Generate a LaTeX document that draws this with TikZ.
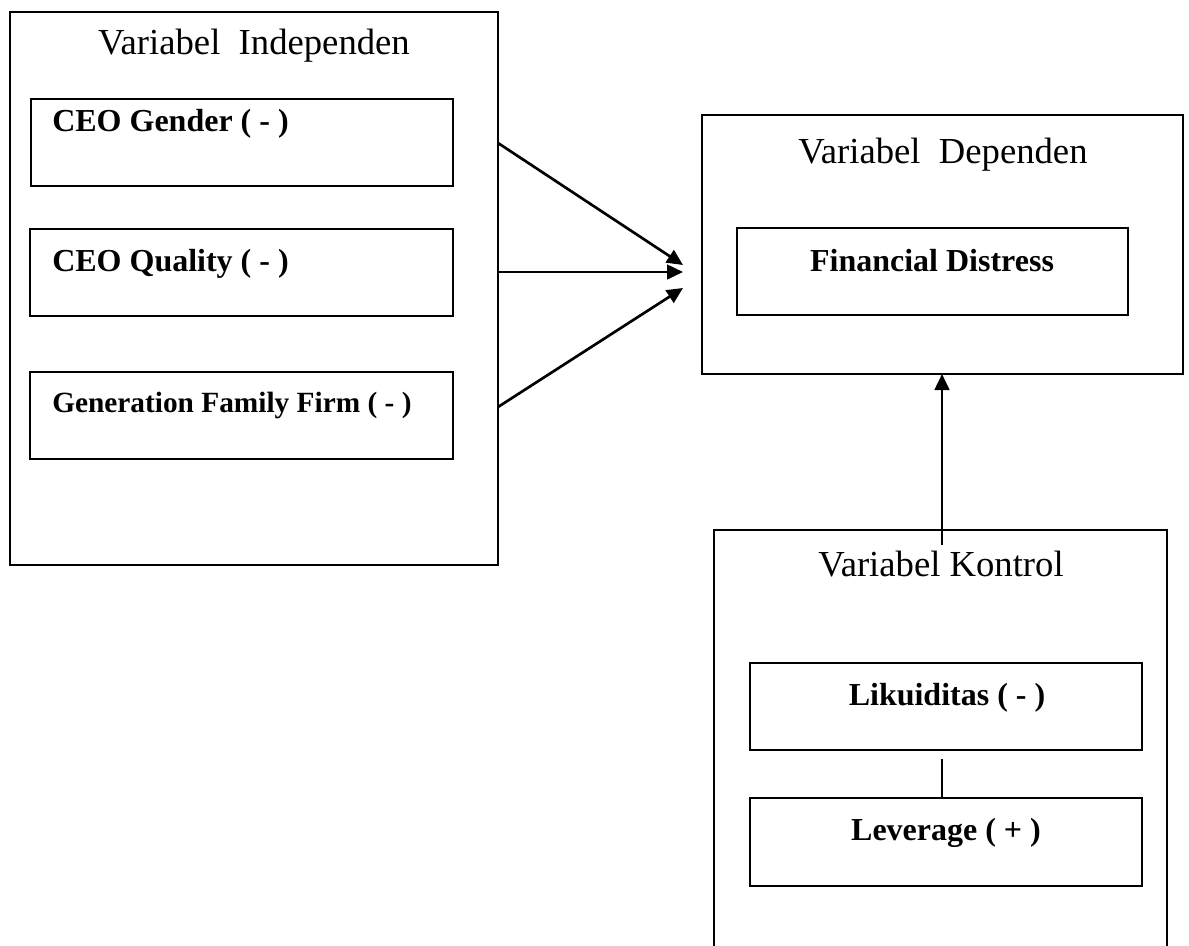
\documentclass[tikz,border=0pt]{standalone}
\usepackage{fontspec}
\setmainfont{Liberation Serif}
\usetikzlibrary{arrows.meta}
\begin{document}
\begin{tikzpicture}[x=0.75pt,y=-0.75pt,
  frame/.style={draw,line width=1.4pt,minimum width=#1*0.75pt,inner sep=0pt,outer sep=0pt},
  outerbox/.style={draw,line width=1.3pt,inner sep=0pt,outer sep=0pt},
  head/.style={font=\fontsize{27.5}{32}\selectfont,anchor=base,inner sep=0pt},
  lab/.style={font=\fontsize{24}{28}\selectfont\bfseries,inner sep=0pt},
  labs/.style={font=\fontsize{22}{26}\selectfont\bfseries,inner sep=0pt},
  conn/.style={line width=2pt,-{Triangle[length=12pt,width=11pt]}},
  plain/.style={line width=1.3pt}]
\useasboundingbox (0,0) rectangle (1189,946);
% outer boxes
\node[outerbox,minimum width=488*0.75pt,minimum height=553*0.75pt] (indep) at (254,288.5) {};
\node[outerbox,minimum width=481*0.75pt,minimum height=259*0.75pt] (dep) at (942.5,244.5) {};
\coordinate (ktl) at (714,530);
\coordinate (ktr) at (1167,530);
\draw[plain] (714,950) -- (ktl) -- (ktr) -- (1167,950);
% headings
\node[head] (hind) at (254,54) {Variabel\ \ Independen};
\node[head] (hdep) at (943,163) {Variabel\ \ Dependen};
\node[head] (hkon) at (941,576) {Variabel Kontrol};
% inner boxes
\node[frame=422,minimum height=87*0.75pt] (gender) at (242,142.5) {};
\node[frame=423,minimum height=87*0.75pt] (quality) at (241.5,272.5) {};
\node[frame=423,minimum height=87*0.75pt] (genfam) at (241.5,415.5) {};
\node[frame=391,minimum height=87*0.75pt] (fd) at (932.5,271.5) {};
\node[frame=392,minimum height=87*0.75pt] (lik) at (946,706.5) {};
\node[frame=392,minimum height=88*0.75pt] (lev) at (946,842) {};
% labels
\node[lab,anchor=base west] (tgender) at (52,131) {CEO Gender ( - )};
\node[lab,anchor=base west] (tquality) at (52,271) {CEO Quality ( - )};
\node[labs,anchor=base west] (tgenfam) at (52,412) {Generation Family Firm ( - )};
\node[lab,anchor=base] (tfd) at (932,271) {Financial Distress};
\node[lab,anchor=base] (tlik) at (947,705) {Likuiditas ( - )};
\node[lab,anchor=base] (tlev) at (946,840) {Leverage ( + )};
% connectors
\coordinate (s1) at (498,143);
\coordinate (s2) at (498,272);
\coordinate (s3) at (498,407);
\coordinate (e1) at (683,265);
\coordinate (e2) at (683,272);
\coordinate (e3) at (683,288);
\draw[conn] (s1) -- (e1);
\draw[conn] (s2) -- (e2);
\draw[conn] (s3) -- (e3);
\coordinate (kstart) at (942,545);
\draw[conn] (kstart) -- (kstart |- dep.south);
\coordinate (lstart) at (942,759);
\draw[plain] (lstart) -- (lstart |- lev.north);
\end{tikzpicture}
\end{document}
